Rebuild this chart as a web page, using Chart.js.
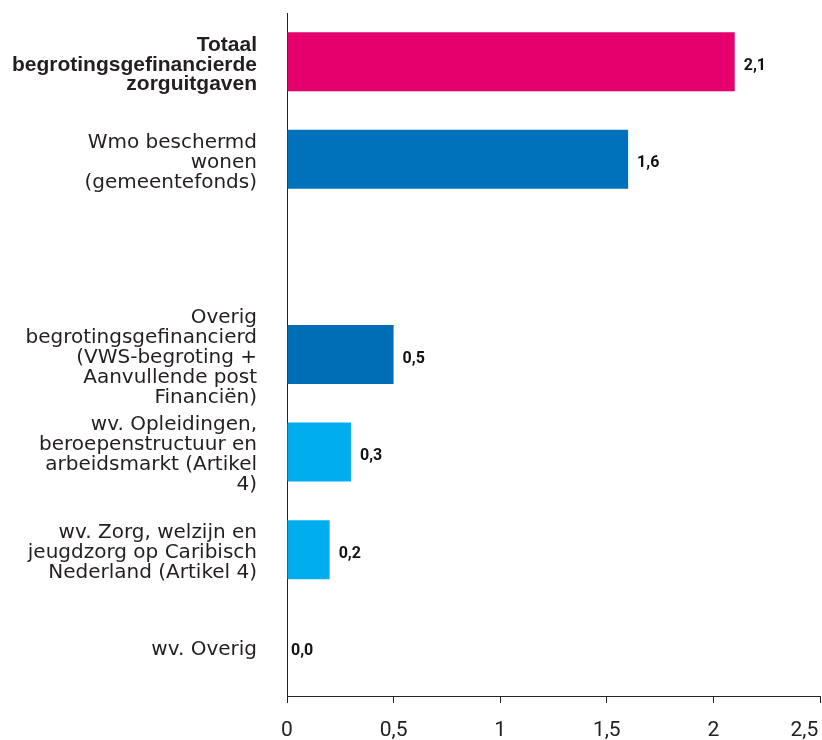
<!DOCTYPE html>
<html>
<head>
<meta charset="utf-8">
<script src="https://cdn.jsdelivr.net/npm/chart.js@4"></script>
<style>
    body { margin: 0; background: #fff; }
    #wrap { width: 822px; height: 740px; }
</style>
</head>
<body>
<div id="wrap"><canvas id="zorgChart"></canvas></div>
<script>
// Categories (multi-line labels), empty slot between Wmo and Overig
const categories = [
    ['Totaal', 'begrotingsgefinancierde', 'zorguitgaven'],
    ['Wmo beschermd', 'wonen', '(gemeentefonds)'],
    '',
    ['Overig', 'begrotingsgefinancierd', '(VWS-begroting +', 'Aanvullende post', 'Financiën)'],
    ['wv. Opleidingen,', 'beroepenstructuur en', 'arbeidsmarkt (Artikel', '4)'],
    ['wv. Zorg, welzijn en', 'jeugdzorg op Caribisch', 'Nederland (Artikel 4)'],
    'wv. Overig'
];
const values = [2.1, 1.6, null, 0.5, 0.3, 0.2, 0.0];
const barColors = ['#e5006e', '#0071bb', '#0071bb', '#006eb6', '#00aeef', '#00aeef', '#00aeef'];
const xTicks = [0, 0.5, 1, 1.5, 2, 2.5];

function fmt(v) {
    return v.toFixed(1).replace('.', ',');
}

document.addEventListener("DOMContentLoaded", function () {
    const ctx = document.getElementById('zorgChart').getContext('2d');

    // value labels right of each bar
    const valueLabels = {
        id: 'valueLabels',
        afterDatasetsDraw(chart) {
            const c = chart.ctx;
            const meta = chart.getDatasetMeta(0);
            c.save();
            c.font = 'bold 16px Roboto';
            c.fillStyle = '#111';
            c.textAlign = 'left';
            c.textBaseline = 'middle';
            meta.data.forEach((bar, i) => {
                const v = values[i];
                if (v === null) return;
                const off = v === 0 ? 4 : 9;
                c.fillText(fmt(v), bar.x + off, bar.y + 4);
            });
            c.restore();
        }
    };

    new Chart(ctx, {
        type: 'bar',
        data: {
            labels: categories,
            datasets: [{
                data: values,
                backgroundColor: barColors,
                borderWidth: 0,
                barPercentage: 0.605,
                categoryPercentage: 1
            }]
        },
        options: {
            indexAxis: 'y',
            responsive: true,
            maintainAspectRatio: false,
            animation: false,
            layout: { padding: { top: 13, right: 2, bottom: 0, left: 0 } },
            plugins: {
                legend: { display: false },
                tooltip: { enabled: false }
            },
            scales: {
                y: {
                    grid: { display: false, drawTicks: false },
                    border: { display: true, color: '#222', width: 1 },
                    ticks: {
                        autoSkip: false,
                        padding: 30,
                        labelOffset: 3,
                        color: '#231f20',
                        font: (c) => c.index === 0
                            ? { family: 'Liberation Sans', size: 21, weight: 'bold', lineHeight: '19.5px' }
                            : { family: 'DejaVu Sans', size: 20, lineHeight: '20px' }
                    },
                    afterFit: (scale) => {
                        scale.width = 287;
                        scale.paddingTop = 0;
                        scale.paddingBottom = 0;
                    }
                },
                x: {
                    min: 0,
                    max: 2.5,
                    afterBuildTicks: (scale) => {
                        scale.ticks = xTicks.map(v => ({ value: v }));
                    },
                    grid: {
                        display: true,
                        drawOnChartArea: false,
                        drawTicks: true,
                        tickLength: 7,
                        color: '#222'
                    },
                    border: { display: true, color: '#222', width: 1 },
                    ticks: {
                        padding: 15,
                        color: '#222',
                        maxRotation: 0,
                        autoSkip: false,
                        font: { family: 'Roboto', size: 21 },
                        // last label pulled left so it stays inside the canvas
                        callback: (v) => v === 2.5 ? fmt(v) + '      ' : (Number.isInteger(v) ? String(v) : fmt(v))
                    },
                    afterFit: (scale) => {
                        scale.height = 44;
                        scale.paddingLeft = 0;
                        scale.paddingRight = 0;
                    }
                }
            }
        },
        plugins: [valueLabels]
    });
});
</script>
</body>
</html>
